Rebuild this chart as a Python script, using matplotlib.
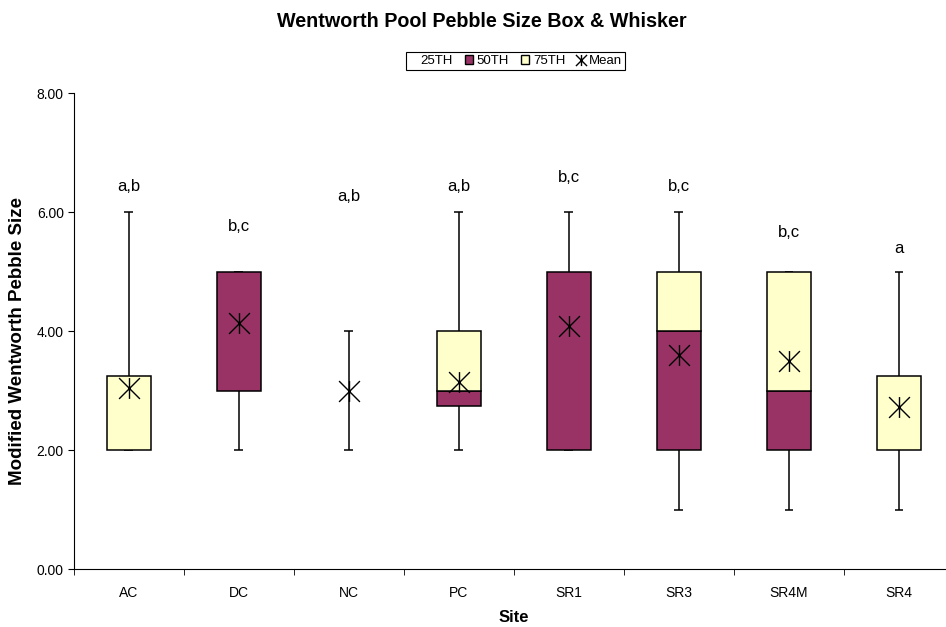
import numpy as np
import matplotlib
matplotlib.use("Agg")
import matplotlib.pyplot as plt
from matplotlib.patches import Patch
from matplotlib.lines import Line2D
from matplotlib.path import Path

plt.rcParams['font.family'] = ['Liberation Sans', 'DejaVu Sans']

sites = ["AC", "DC", "NC", "PC", "SR1", "SR3", "SR4M", "SR4"]
mins = [2, 2, 2, 2, 2, 1, 1, 1]
q1 = [2, 3, 3, 2.75, 2, 2, 2, 2]
medians = [2, 5, 3, 3, 5, 4, 3, 2]
q3 = [3.25, 5, 3, 4, 5, 5, 5, 3.25]
maxs = [6, 5, 4, 6, 6, 6, 5, 5]
means = [3.05, 4.14, 2.99, 3.14, 4.09, 3.60, 3.50, 2.72]
letters = ["a,b", "b,c", "a,b", "a,b", "b,c", "b,c", "b,c", "a"]
letter_y = [6.35, 5.69, 6.19, 6.35, 6.51, 6.35, 5.59, 5.32]

maroon = "#993366"
cream = "#FFFFCC"

# asterisk marker: an x with a vertical bar through it
star = Path([(-1, -1), (1, 1), (-1, 1), (1, -1), (0, -1), (0, 1)],
            [Path.MOVETO, Path.LINETO, Path.MOVETO, Path.LINETO, Path.MOVETO, Path.LINETO])

fig = plt.figure(figsize=(9.46, 6.27), dpi=100)
ax = fig.add_axes([0.0777, 0.092, 0.9308, 0.7592])

x = np.arange(len(sites))
q1 = np.array(q1)
medians = np.array(medians)
q3 = np.array(q3)

# whiskers and caps
ax.vlines(x, mins, maxs, color="black", lw=1.1, zorder=1)
ax.hlines(mins, x - 0.04, x + 0.04, color="black", lw=1.1, zorder=1)
ax.hlines(maxs, x - 0.04, x + 0.04, color="black", lw=1.1, zorder=1)

lower = medians - q1
upper = q3 - medians
ax.bar(x, lower, bottom=q1, width=0.4, color=maroon, edgecolor="black",
       linewidth=[1.1 if h > 0 else 0 for h in lower], zorder=2)
ax.bar(x, upper, bottom=medians, width=0.4, color=cream, edgecolor="black",
       linewidth=[1.1 if h > 0 else 0 for h in upper], zorder=2)

ax.plot(x, means, linestyle="none", marker=star, markersize=15,
        markeredgecolor="black", markeredgewidth=1, zorder=3)

for xi, lab, ly in zip(x, letters, letter_y):
    ax.text(xi, ly, lab, ha="center", va="baseline", fontsize=12)

ax.set_xlim(-0.5, len(sites) - 0.5)
ax.set_ylim(0, 8)
ax.set_yticks([0, 2, 4, 6, 8])
ax.set_yticklabels([f"{v:.2f}" for v in [0, 2, 4, 6, 8]], fontsize=10)
ax.set_xticks(x)
ax.set_xticklabels(sites, fontsize=10)
ax.set_xticks(np.arange(-0.5, len(sites), 1), minor=True)
ax.tick_params(axis="x", which="major", length=0, pad=12)
ax.tick_params(axis="x", which="minor", length=4, direction="out")
ax.tick_params(axis="y", length=4, direction="out", pad=3)
for s in ["top", "right"]:
    ax.spines[s].set_visible(False)

ax.set_xlabel("Site", fontsize=12, fontweight="bold", labelpad=7)
ax.set_ylabel("Modified Wentworth Pebble Size", fontsize=13.5, fontweight="bold")
ax.yaxis.set_label_coords(-0.054, 0.48)

fig.text(0.509, 0.965, "Wentworth Pool Pebble Size Box & Whisker", ha="center", va="center",
         fontsize=14.2, fontweight="bold")

handles = [
    Patch(facecolor="none", edgecolor="none"),
    Patch(facecolor=maroon, edgecolor="black", linewidth=1),
    Patch(facecolor=cream, edgecolor="black", linewidth=1),
    Line2D([], [], linestyle="none", marker=star, markersize=8,
           markeredgecolor="black", markeredgewidth=1),
]
leg = fig.legend(handles, ["25TH", "50TH", "75TH", "Mean"], loc="center",
                 bbox_to_anchor=(0.545, 0.9027), ncol=4, fontsize=9.5,
                 handlelength=0.6, handleheight=0.6, handletextpad=0.3,
                 columnspacing=0.9, borderpad=0.2, fancybox=False,
                 edgecolor="black", framealpha=1)
leg.get_frame().set_linewidth(0.8)

fig.savefig("out.png", dpi=100)
